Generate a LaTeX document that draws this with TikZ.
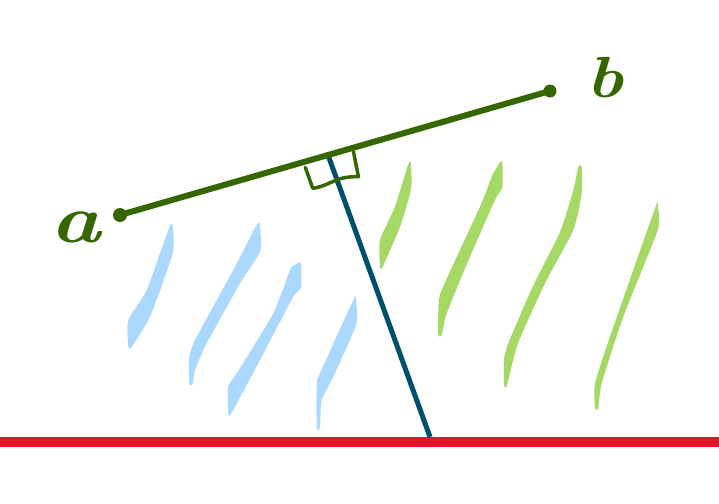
\documentclass[tikz,border=0pt]{standalone}
\usepackage{fontspec}
\definecolor{dgreen}{HTML}{356600}
\definecolor{teal}{HTML}{00506C}
\definecolor{redl}{HTML}{E8122A}
\definecolor{lblue}{HTML}{AAD8FF}
\definecolor{lgreen}{HTML}{A6D866}
\tikzset{
  bluestroke/.style={fill=lblue, draw=none},
  greenstroke/.style={fill=lgreen, draw=none},
  segline/.style={draw=dgreen, line width=6pt, line cap=round},
  dotend/.style={fill=dgreen},
  perpline/.style={draw=teal, line width=5pt},
  baseline/.style={draw=redl, line width=10pt},
  rmark/.style={draw=dgreen, line width=3.5pt, line cap=round, line join=round},
  lbl/.style={text=dgreen, font=\bfseries\itshape\fontsize{#1}{#1}\selectfont, inner sep=0pt}
}
\begin{document}
\begin{tikzpicture}[x=1pt,y=-1pt]
\useasboundingbox (0,0) rectangle (719,503);
% light blue strokes
\fill[bluestroke] plot[smooth cycle, tension=0.35] coordinates{(169.3,227.3) (172.7,226.7) (172.7,253.3) (150,316.7) (131.7,346.7) (128.3,346.7) (128.3,320) (146.7,290)};
\fill[bluestroke] plot[smooth cycle, tension=0.35] coordinates{(256.7,225) (260,225) (260,251.7) (240,283.3) (206.7,343.3) (195,370) (192.7,384) (189.3,384) (189.3,356.7) (196.7,336.7) (233.3,270)};
\fill[bluestroke] plot[smooth cycle, tension=0.35] coordinates{(295,265) (301,263.3) (301,288.3) (293.3,296.7) (260,360) (231.7,412.7) (228.3,413.3) (228.3,386.7) (236.7,373.3) (273.3,313.3) (290,270)};
\fill[bluestroke] plot[smooth cycle, tension=0.35] coordinates{(353.3,300) (356,299.3) (356,325) (333.3,376.7) (321.7,400) (320,427.3) (316.7,427.3) (316.7,383.3) (320,373.3)};
% light green strokes
\fill[greenstroke] plot[smooth cycle, tension=0.35] coordinates{(408.3,164) (411,164) (411,189.3) (400,226.7) (382.7,266.7) (380,266.7) (380,240) (395,206.7)};
\fill[greenstroke] plot[smooth cycle, tension=0.35] coordinates{(500,162.3) (502.3,162.3) (502.3,187.3) (495,200) (470,256.7) (446.7,313.3) (441.7,335) (438.3,335) (438.3,310) (441.7,290) (480,206.7) (491.7,176.7)};
\fill[greenstroke] plot[smooth cycle, tension=0.35] coordinates{(578.3,166.7) (581.7,166.7) (581.7,193.3) (573.3,230) (545,283.3) (518,343.3) (507,385) (504,385) (504,360) (508,344) (532,288) (560,232) (573.3,190)};
\fill[greenstroke] plot[smooth cycle, tension=0.35] coordinates{(655,208.3) (657.7,206.7) (657.7,230) (623.3,316.7) (601.7,383.3) (598.3,408.3) (595,408.3) (595,383.3) (610,336.7)};
% red base line
\coordinate (L) at (0,442);
\coordinate (R) at (719,442);
\draw[baseline] (L) -- (R);
% perpendicular
\coordinate (F) at (328,155);
\coordinate (G) at (430,437);
\draw[perpline] (F) -- (G);
% segment ab
\coordinate (A) at (120,215);
\coordinate (B) at (550,91);
\draw[segline] (A) -- (B);
\fill[dotend] (A) circle (7);
\fill[dotend] (B) circle (6.5);
% right-angle marker
\coordinate (m1) at (305.3,167.3);
\coordinate (m2) at (312.7,188.3);
\coordinate (m3) at (358.4,176.7);
\coordinate (m4) at (353.5,151.7);
\draw[rmark] (m1) -- (m2) .. controls (330,186) and (335,176) .. (m3) -- (m4);
% labels
\node[lbl=68] (la) at (76,227) {\scalebox{1.25}[1]{a}};
\node[lbl=58] (lb) at (605,78) {\scalebox{1.2}[1]{b}};
\end{tikzpicture}
\end{document}
